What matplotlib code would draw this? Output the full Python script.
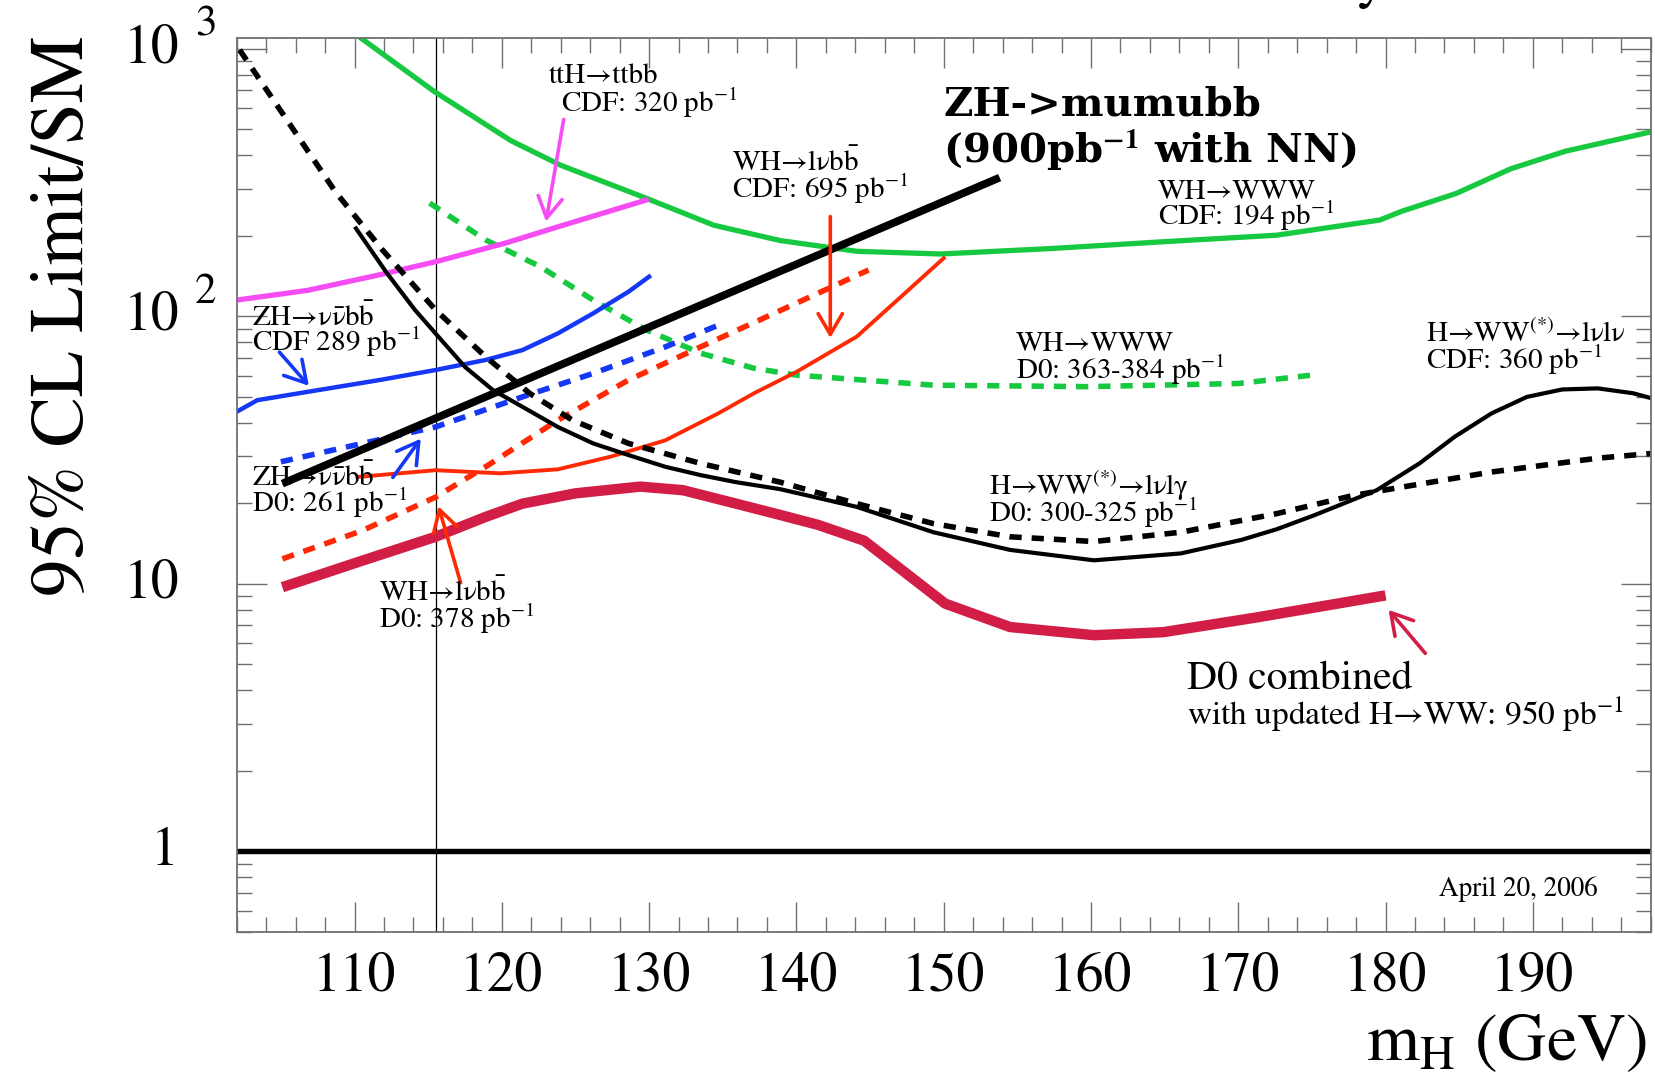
import numpy as np
import matplotlib
matplotlib.use("Agg")
import matplotlib.pyplot as plt
from matplotlib.ticker import MultipleLocator, LogLocator, NullFormatter, FixedLocator
import matplotlib.transforms as mtransforms

plt.rcParams['font.family'] = ['STIXGeneral', 'DejaVu Serif']
plt.rcParams['mathtext.fontset'] = 'stix'

# ---- limits (95% CL / SM) vs Higgs mass ----
# CDF WH->WWW, 194 pb-1
m_wh_www_cdf = [110.4, 115.4, 120.6, 124.0, 129.9, 134.4, 138.9, 144.1, 149.8, 157.1,
                164.9, 172.6, 179.6, 181.1, 184.8, 188.5, 192.2, 198.0]
lim_wh_www_cdf = [1100, 693, 454, 367, 275, 219, 192, 175, 171, 179,
                  190, 201, 229, 247, 288, 356, 414, 489]

# D0 WH->WWW, 363-384 pb-1
m_wh_www_d0 = [115.1, 118.9, 122.6, 126.2, 129.8, 133.5, 137.1, 140.0, 149.3, 159.7, 170.0, 175.0]
lim_wh_www_d0 = [265, 193, 153.5, 115, 89, 72.8, 64, 60.3, 55.3, 54.6, 56.1, 60.3]

# CDF ttH->ttbb, 320 pb-1
m_tth = [102.0, 106.8, 111.7, 115.5, 120.2, 123.8, 129.8]
lim_tth = [115, 125, 143, 160, 187.5, 216, 272]

# CDF ZH->nunubb, 289 pb-1
m_zh_cdf = [102.0, 103.4, 106.8, 111.7, 115.5, 118.9, 121.4, 123.8, 126.2, 128.6, 130.0]
lim_zh_cdf = [44, 48.6, 52.2, 57.8, 63, 68.7, 74.8, 86.3, 102.6, 123.6, 140.7]

# D0 ZH->nunubb, 261 pb-1
m_zh_d0 = [105.0, 115.5, 121.4, 126.2, 131.1, 135.0]
lim_zh_d0 = [28.6, 38.6, 50, 61.2, 76.9, 94.1]

# ZH->mumubb, 900 pb-1 with NN
m_zh_mumu = [105.1, 153.8]
lim_zh_mumu = [23.7, 330]

# CDF WH->lnubb, 695 pb-1
m_wh_cdf = [110.2, 115.5, 119.9, 123.8, 127.4, 131.1, 134.7, 137.1, 140.0, 144.1, 147.0, 150.0]
lim_wh_cdf = [25.1, 26.6, 25.9, 26.8, 29.9, 34.4, 43.4, 51.5, 62, 84, 117, 165]

# D0 WH->lnubb, 378 pb-1
m_wh_d0 = [105.1, 110.5, 115.5, 118.9, 123.8, 128.6, 133.5, 140.0, 144.9]
lim_wh_d0 = [12.4, 15.8, 21.1, 27.4, 40.9, 57.8, 76.9, 112, 149]

# D0 H->WW->lnulnu, 300-325 pb-1
m_hww_d0 = [102.2, 108.7, 111.9, 115.5, 118.9, 121.9, 124.8, 128.6, 133.5, 138.9,
            144.1, 149.3, 154.5, 160.2, 166.1, 172.6, 177.8, 180.5, 187.2, 194.4, 198.0]
lim_hww_d0 = [990, 292, 177, 105.7, 70.6, 51.5, 40.9, 33.5, 28.2, 24.0,
              19.95, 16.8, 15.0, 14.4, 15.6, 18.3, 21.4, 22.7, 26.2, 29.5, 30.7]

# CDF H->WW->lnulnu, 360 pb-1
m_hww_cdf = [110.1, 112.2, 114.1, 115.5, 117.5, 119.4, 121.4, 123.8, 126.2, 128.6,
             131.1, 133.5, 135.9, 138.9, 144.1, 149.3, 154.5, 160.2, 166.1, 170.2,
             172.6, 175.1, 179.4, 182.3, 184.7, 187.2, 189.6, 192.0, 194.4, 196.8, 198.0]
lim_hww_cdf = [213, 145, 105.7, 86.3, 64.7, 53, 45.9, 38.6, 33.5, 30.3,
               27.4, 25.5, 24.0, 22.6, 19.4, 15.6, 13.4, 12.25, 13.0, 14.6,
               16.0, 18.0, 22.4, 28.2, 35.5, 43.4, 50, 53.3, 53.8, 51.6, 49.5]

# D0 combined with updated H->WW, 950 pb-1
m_d0_comb = [105.1, 110.5, 115.5, 118.9, 121.4, 125.0, 129.4, 132.3, 135.9, 138.9,
             141.5, 144.6, 147.5, 150.1, 154.5, 160.2, 164.9, 171.3, 180.0]
lim_d0_comb = [9.72, 12.2, 15.0, 17.8, 19.95, 21.8, 23.1, 22.4, 19.95, 18.1,
               16.6, 14.5, 10.9, 8.44, 6.9, 6.43, 6.6, 7.5, 9.06]

x_ticks = [110, 120, 130, 140, 150, 160, 170, 180, 190]
lep_mass = 115.5

GREEN = '#17c940'
MAGENTA = '#f64cf4'
BLUE = '#1438f5'
RED = '#ff2a05'
CRIMSON = '#d21e46'
DASH = (0, (2.2, 1.8))

fig = plt.figure(figsize=(16.55, 10.87), dpi=100)
ax = fig.add_axes([0.14302, 0.14259, 0.85438, 0.82273])
ax.set_yscale('log')
ax.set_xlim(102, 198)
ax.set_ylim(0.5, 1100)

ax.axhline(1, color='k', lw=3.9, zorder=2)
ax.axvline(lep_mass, color='k', lw=0.9, zorder=2)

ax.plot(m_wh_www_cdf, lim_wh_www_cdf, color=GREEN, lw=3.8)
ax.plot(m_wh_www_d0, lim_wh_www_d0, color=GREEN, lw=4, ls=DASH)
ax.plot(m_tth, lim_tth, color=MAGENTA, lw=3.8)
ax.plot(m_zh_cdf, lim_zh_cdf, color=BLUE, lw=3.2)
ax.plot(m_zh_d0, lim_zh_d0, color=BLUE, lw=4, ls=DASH)
ax.plot(m_wh_cdf, lim_wh_cdf, color=RED, lw=2.8)
ax.plot(m_wh_d0, lim_wh_d0, color=RED, lw=4, ls=DASH)
ax.plot(m_hww_d0, lim_hww_d0, color='k', lw=4, ls=DASH)
ax.plot(m_hww_cdf, lim_hww_cdf, color='k', lw=3.0)
ax.plot(m_zh_mumu, lim_zh_mumu, color='k', lw=5.6, solid_capstyle='butt')
ax.plot(m_d0_comb, lim_d0_comb, color=CRIMSON, lw=7.5, solid_capstyle='butt')

# arrows: (tail, head, colour)
arrows = [
    ((124.2, 544), (123.0, 226), MAGENTA),
    ((142.3, 236), (142.3, 83), RED),
    ((104.9, 73.5), (106.9, 55), BLUE),
    ((112.6, 25), (114.5, 34.9), BLUE),
    ((117.2, 10.1), (115.7, 19.5), RED),
    ((182.7, 5.5), (180.2, 8.0), CRIMSON),
]
for tail, head, c in arrows:
    ax.annotate('', xy=head, xytext=tail,
                arrowprops=dict(arrowstyle='->,head_length=0.6,head_width=0.35',
                                mutation_scale=25, color=c, lw=2.6,
                                shrinkA=0, shrinkB=0))

# channel labels: (x, y, text, size)
labels = [
    (123.18, 743, 'ttH→ttbb', 21),
    (124.02, 581, 'CDF: 320 pb$^{-1}$', 21),
    (135.62, 348, r'WH→lν$\mathrm{b\bar{b}}$', 21),
    (135.62, 277, 'CDF: 695 pb$^{-1}$', 21),
    (164.56, 275, 'WH→WWW', 21),
    (164.56, 219, 'CDF: 194 pb$^{-1}$', 21),
    (103.03, 92.3, r'ZH→ν$\mathrm{\bar{\nu}b\bar{b}}$', 21),
    (103.03, 74.5, 'CDF 289 pb$^{-1}$', 21),
    (103.03, 23.2, r'ZH→ν$\mathrm{\bar{\nu}b\bar{b}}$', 21),
    (103.03, 18.5, 'D0: 261 pb$^{-1}$', 21),
    (111.63, 8.61, r'WH→lν$\mathrm{b\bar{b}}$', 21),
    (111.63, 6.87, 'D0: 378 pb$^{-1}$', 21),
    (154.89, 74.5, 'WH→WWW', 21),
    (154.89, 58.5, 'D0: 363-384 pb$^{-1}$', 21),
    (182.75, 80.5, 'H→WW$^{(*)}$→lνlν', 21),
    (182.75, 63.5, 'CDF: 360 pb$^{-1}$', 21),
    (153.05, 21.5, 'H→WW$^{(*)}$→lνlγ', 21),
    (153.05, 17.1, 'D0: 300-325 pb$^{-1}$', 21),
    (166.53, 4.06, 'D0 combined', 30),
    (166.53, 2.96, 'with updated H→WW: 950 pb$^{-1}$', 24),
    (183.66, 0.679, 'April 20, 2006', 19.5),
]
for x, y, s, size in labels:
    ax.text(x, y, s, fontsize=size, ha='left', va='baseline')

ax.text(149.97, 561, 'ZH->mumubb', fontsize=29, fontfamily='DejaVu Serif',
        fontweight='bold', ha='left', va='baseline')
ax.text(149.97, 376, r'(900pb$^{\mathbf{-1}}$ with NN)', fontsize=29,
        fontfamily='DejaVu Serif', fontweight='bold', ha='left', va='baseline')

# axes frame and ticks
for sp in ax.spines.values():
    sp.set_color('#707070')
    sp.set_linewidth(1.3)
ax.xaxis.set_major_locator(FixedLocator(x_ticks))
ax.xaxis.set_minor_locator(MultipleLocator(2))
ax.yaxis.set_major_locator(FixedLocator([1, 10, 100, 1000]))
ax.yaxis.set_minor_locator(LogLocator(base=10, subs=np.arange(2, 10), numticks=20))
ax.yaxis.set_major_formatter(NullFormatter())
ax.yaxis.set_minor_formatter(NullFormatter())
ax.tick_params(which='both', direction='in', top=True, right=True,
               color='#707070', width=1.0)
ax.tick_params(which='major', length=21.5)
ax.tick_params(which='minor', length=10.8)
ax.tick_params(axis='x', which='major', labelsize=40, pad=14)

# y tick labels in "10 ^n" form
ytr = mtransforms.blended_transform_factory(ax.transAxes, ax.transData)
for val, base, expo in [(1, '1', ''), (10, '10', ''), (100, '10', '2'), (1000, '10', '3')]:
    ax.text(-0.0408, val, base, transform=ytr, fontsize=40, ha='right', va='center')
    if expo:
        tr = ytr + mtransforms.ScaledTranslation(0, 17 / 72, fig.dpi_scale_trans)
        ax.text(-0.0295, val, expo, transform=tr, fontsize=31, ha='left', va='center')

fig.text(0.0495, 0.9675, '95% CL Limit/SM', fontsize=54, rotation=90,
         rotation_mode='anchor', ha='right', va='baseline')
fig.text(0.9952, 0.0251, r'm$_{\mathrm{H}}$ (GeV)', fontsize=49, ha='right', va='baseline')
fig.text(1385 / 1655, 1 + 3 / 1087, 'Tevatron Run II Preliminary', fontsize=40,
         ha='right', va='baseline')

fig.savefig('out.png', dpi=100)
